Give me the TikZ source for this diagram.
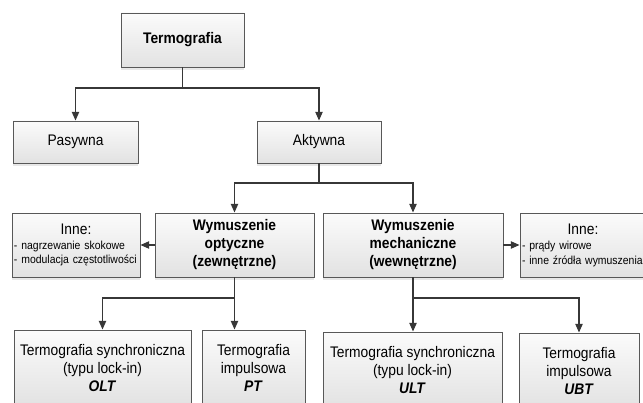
\documentclass[tikz,border=0pt]{standalone}
\usepackage{fontspec}
\setmainfont{Liberation Sans}[FakeStretch=0.9]
\usepackage{xcolor}
\usetikzlibrary{arrows.meta,shadows}
\definecolor{frame}{RGB}{88,88,88}
\definecolor{wire}{RGB}{55,55,55}
\definecolor{boxtop}{RGB}{251,251,251}
\definecolor{boxbot}{RGB}{226,226,226}
\newcommand{\mainsize}{\fontsize{11.5}{13.5}\selectfont}
\newcommand{\smallsize}{\fontsize{8.7}{11.2}\selectfont}

\begin{document}
\begin{tikzpicture}[x=0.75pt, y=-0.75pt,
		box/.style={draw=frame, line width=0.7pt, top color=boxtop, bottom color=boxbot,
		            drop shadow={shadow xshift=0pt, shadow yshift=-2.2pt, opacity=0.18},
		            font=\mainsize, align=center, inner sep=1.5pt},
		inne/.style={box, font=\smallsize, align=left, minimum height=48pt},
		conn/.style={draw=wire, line width=0.9pt, -{Triangle[width=5.5pt,length=6.5pt]}},
		trunk/.style={draw=wire, line width=0.9pt}]
		\useasboundingbox (0,0) rectangle (643,403);
		\clip (0,0) rectangle (643,403);
		% levels 1-2
		\node[box, minimum width=92.25pt, minimum height=40.5pt] (term) at (182.5,40) {\textbf{Termografia}};
		\node[box, minimum width=93.75pt, minimum height=31.5pt] (pas) at (75.5,142) {Pasywna};
		\node[box, minimum width=93pt, minimum height=31.5pt] (akt) at (319,142) {Aktywna};
		% level 3
		\node[box, minimum width=119.25pt, minimum height=48pt, font=\mainsize\bfseries] (opt) at (234.5,245)
			{Wymuszenie\\optyczne\\(zewnętrzne)};
		\node[box, minimum width=135pt, minimum height=48pt, font=\mainsize\bfseries] (mech) at (413,245)
			{Wymuszenie\\mechaniczne\\(wewnętrzne)};
		\node[inne, text width=93pt] (inneL) at (76,245)
			{\makebox[\linewidth]{\mainsize Inne:}\\- nagrzewanie skokowe\\- modulacja częstotliwości};
		\node[inne, text width=91.5pt] (inneR) at (583,245)
			{\makebox[\linewidth]{\mainsize Inne:}\\- prądy wirowe\\- inne źródła wymuszenia};
		% level 4
		\node[box, minimum width=132.75pt, minimum height=57pt] (olt) at (102.5,368)
			{Termografia synchroniczna\\(typu lock-in)\\\textbf{\textit{OLT}}};
		\node[box, minimum width=77.25pt, minimum height=57pt] (pt) at (253.5,368)
			{Termografia\\impulsowa\\\textbf{\textit{PT}}};
		\node[box, minimum width=134.25pt, minimum height=57pt] (ult) at (412.5,370)
			{Termografia synchroniczna\\(typu lock-in)\\\textbf{\textit{ULT}}};
		\node[box, minimum width=90pt, minimum height=57pt] (ubt) at (579,371)
			{Termografia\\impulsowa\\\textbf{\textit{UBT}}};
		% connectors
		\coordinate (j0) at (182.5,88);
		\coordinate (j1) at (319,183);
		\coordinate (j2) at (234.5,298);
		\coordinate (j3) at (413,298);
		\draw[trunk] (term) -- (j0);
		\draw[trunk] (akt) -- (j1);
		\draw[trunk] (opt) -- (j2);
		\draw[trunk] (mech) -- (j3);
		\foreach \a/\b in {j0/pas, j0/akt, j1/opt, j1/mech, j2/olt, j3/ubt}
			\draw[conn] (\a) -| (\b);
		\draw[conn] (j2) -- (j2 |- pt.north);
		\draw[conn] (j3) -- (j3 |- ult.north);
		\draw[conn] (opt) -- (inneL);
		\draw[conn] (mech) -- (inneR);
	\end{tikzpicture}
\end{document}
